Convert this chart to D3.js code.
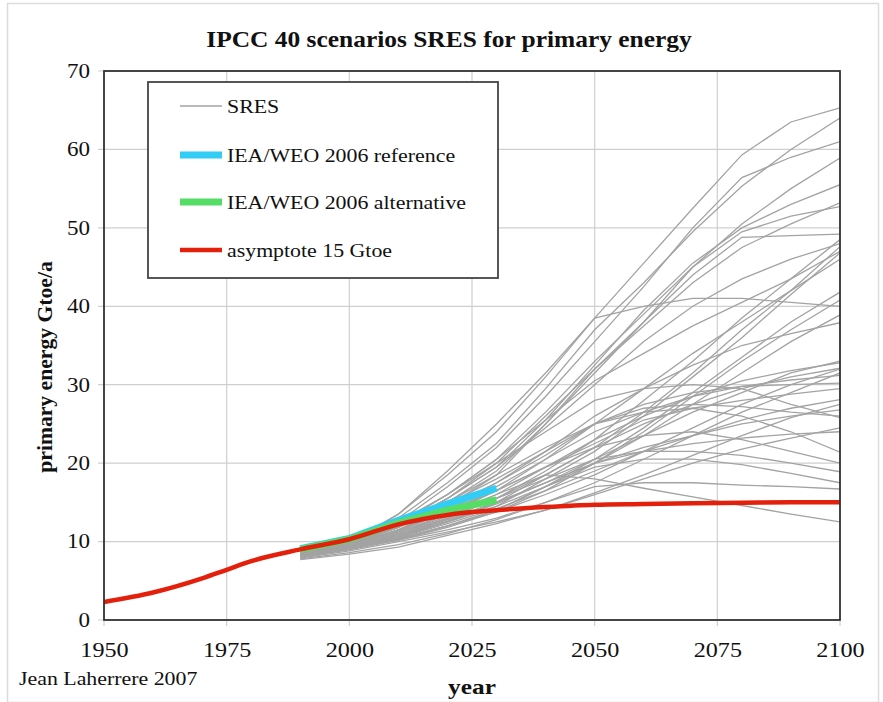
<!DOCTYPE html>
<html>
<head>
<meta charset="utf-8">
<script src="https://cdn.jsdelivr.net/npm/d3@7"></script>
<style>
  html, body { margin: 0; padding: 0; background: #fff; }
  svg { display: block; }
  text { font-family: "Liberation Serif", "Times New Roman", serif; fill: #111; }
</style>
</head>
<body>
<svg id="chart" width="883" height="702"></svg>
<script>
// ---------------- data ----------------
const title = "IPCC 40 scenarios SRES for primary energy";
const yLabel = "primary energy Gtoe/a";
const xLabel = "year";
const credit = "Jean Laherrere 2007";

const xTicks = [1950, 1975, 2000, 2025, 2050, 2075, 2100];
const yTicks = [0, 10, 20, 30, 40, 50, 60, 70];

const sresYears = [1990, 2000, 2010, 2020, 2030, 2040, 2050, 2060, 2070, 2080, 2090, 2100];
const sresScenarios = [
  [8.6, 9.9, 13.5, 18.5, 24.0, 31.0, 38.5, 45.5, 52.5, 59.3, 63.5, 65.3],
  [8.6, 9.8, 13.0, 17.5, 22.5, 29.5, 37.0, 43.0, 49.5, 55.3, 60.0, 64.0],
  [8.5, 9.8, 12.5, 17.0, 22.0, 28.5, 35.5, 42.5, 50.0, 56.4, 59.0, 61.0],
  [8.5, 9.7, 12.2, 16.0, 20.5, 26.5, 33.0, 39.0, 45.0, 50.5, 55.0, 58.9],
  [8.4, 9.7, 12.0, 15.5, 19.5, 25.5, 32.5, 39.5, 45.5, 50.0, 53.0, 55.5],
  [8.4, 9.6, 11.8, 15.5, 20.0, 26.0, 32.0, 37.5, 43.0, 47.5, 50.5, 53.2],
  [8.4, 9.6, 11.8, 15.0, 19.0, 25.0, 31.5, 38.0, 45.0, 49.5, 51.5, 52.7],
  [8.3, 9.6, 11.5, 14.5, 18.5, 25.0, 32.0, 38.0, 44.0, 48.8, 49.0, 49.2],
  [8.5, 9.8, 13.5, 19.0, 25.0, 31.5, 38.5, 40.0, 41.0, 41.0, 40.5, 40.0],
  [8.2, 9.2, 10.8, 13.0, 15.5, 19.0, 23.0, 28.0, 33.0, 38.5, 43.5, 48.5],
  [8.2, 9.2, 10.6, 12.5, 15.0, 18.5, 22.0, 26.5, 31.5, 37.0, 42.0, 47.6],
  [8.1, 9.1, 10.5, 12.5, 14.5, 18.0, 21.5, 26.0, 31.0, 36.0, 41.5, 46.8],
  [8.2, 9.3, 11.0, 13.5, 16.5, 20.5, 25.0, 29.5, 34.0, 38.0, 42.0, 46.0],
  [8.1, 9.1, 10.4, 12.0, 14.0, 17.0, 20.5, 24.5, 29.0, 33.5, 38.0, 41.8],
  [8.0, 9.0, 10.2, 11.8, 13.8, 16.5, 20.0, 24.0, 28.5, 33.0, 37.0, 40.8],
  [8.0, 9.0, 10.3, 12.0, 14.0, 17.0, 20.0, 23.5, 27.5, 31.5, 35.5, 38.9],
  [8.3, 9.4, 11.3, 14.0, 17.5, 21.5, 26.0, 29.5, 32.5, 35.0, 36.5, 37.9],
  [8.3, 9.4, 11.2, 13.5, 16.0, 19.5, 23.0, 26.0, 28.5, 30.5, 31.8, 32.8],
  [8.2, 9.3, 11.0, 13.2, 15.5, 18.5, 22.0, 25.0, 27.5, 29.5, 31.0, 32.1],
  [8.3, 9.5, 11.5, 14.0, 17.0, 20.5, 24.0, 26.5, 28.5, 29.8, 30.6, 31.2],
  [8.4, 9.6, 11.8, 14.5, 17.5, 21.0, 25.0, 27.5, 29.0, 29.8, 30.0, 30.2],
  [8.1, 9.1, 10.5, 12.3, 14.2, 16.5, 19.0, 21.5, 23.5, 25.5, 27.0, 28.1],
  [8.2, 9.2, 10.8, 12.8, 15.0, 17.5, 20.0, 22.0, 23.5, 25.0, 26.0, 26.8],
  [8.5, 9.8, 12.5, 16.0, 20.0, 24.0, 28.0, 29.5, 30.0, 29.5, 27.5, 25.8],
  [7.9, 8.8, 10.0, 11.2, 12.5, 14.0, 16.0, 18.0, 20.0, 21.8, 23.2, 24.5],
  [8.4, 9.7, 12.0, 15.0, 18.5, 22.0, 25.0, 26.5, 27.0, 26.0, 24.0, 21.4],
  [8.3, 9.5, 11.5, 14.0, 16.5, 19.5, 22.0, 23.5, 24.0, 23.0, 21.5, 20.0],
  [8.2, 9.3, 11.0, 13.0, 15.5, 18.0, 20.5, 21.5, 21.5, 21.0, 20.0, 18.9],
  [8.2, 9.2, 10.8, 12.5, 14.5, 17.0, 19.5, 20.5, 20.5, 19.8, 18.7, 17.5],
  [8.1, 9.0, 10.2, 11.5, 13.0, 15.0, 17.0, 17.5, 17.5, 17.2, 17.0, 16.7],
  [8.3, 9.2, 11.0, 13.5, 16.0, 18.5, 18.0, 16.8, 15.7, 14.6, 13.5, 12.5],
  [7.7, 8.4, 9.3, 10.8, 12.3, 14.0, 16.2, 18.5, 21.0, 23.5, 25.8, 27.5],
  [7.8, 8.6, 9.6, 11.0, 12.8, 15.0, 17.5, 20.5, 23.5, 26.5, 29.0, 31.5],
  [8.2, 9.2, 10.7, 12.6, 14.8, 17.5, 20.5, 23.5, 26.5, 29.0, 31.5, 33.0],
  [8.3, 9.5, 11.3, 13.8, 16.5, 19.5, 22.5, 25.5, 27.0, 28.0, 28.8, 29.5],
  [8.4, 9.7, 11.8, 14.8, 18.0, 21.5, 25.0, 27.0, 27.5, 27.2, 26.5, 26.0],
  [8.2, 9.3, 10.8, 12.8, 15.0, 17.5, 20.0, 21.5, 22.5, 23.2, 23.7, 24.0],
  [8.1, 9.0, 10.3, 12.0, 13.8, 16.0, 18.5, 21.5, 24.5, 27.5, 30.0, 32.0],
  [8.4, 9.7, 12.0, 15.5, 19.5, 24.5, 30.0, 35.5, 40.0, 43.5, 46.0, 48.0],
  [8.5, 9.8, 12.3, 16.0, 20.5, 25.5, 30.5, 34.0, 37.5, 40.5, 43.5, 47.0]
];

const weoYears = [1990, 2000, 2010, 2020, 2030];
const weoReference = [9.1, 10.4, 12.7, 14.8, 16.8];
const weoAlternative = [9.0, 10.3, 12.4, 14.0, 15.3];

const asymptoteYears = [1950, 1960, 1970, 1975, 1980, 1990, 2000, 2010, 2020, 2030, 2040, 2050, 2060, 2070, 2080, 2090, 2100];
const asymptoteValues = [2.3, 3.5, 5.3, 6.4, 7.5, 9.0, 10.3, 12.2, 13.4, 14.0, 14.4, 14.7, 14.8, 14.9, 14.95, 15.0, 15.0];

const legendLabels = ["SRES", "IEA/WEO 2006 reference", "IEA/WEO 2006 alternative", "asymptote 15 Gtoe"];

// ---------------- chart ----------------
const svg = d3.select("#chart");
const W = 883, H = 702;
const plot = { left: 104, right: 840, top: 71, bottom: 620 };

const colors = { sres: "#a3a3a3", ref: "#33ccf5", alt: "#55dd66", asym: "#e3200b" };

// stretch text horizontally (the reference type is slightly wide)
function stretch(sel, factor) {
  sel.each(function () {
    const w = this.getComputedTextLength();
    d3.select(this).attr("textLength", w * factor).attr("lengthAdjust", "spacingAndGlyphs");
  });
}

// outer frame
svg.append("rect").attr("x", 7.5).attr("y", 3.5).attr("width", W - 12).attr("height", H - 3)
  .attr("fill", "none").attr("stroke", "#dcdcdc").attr("stroke-width", 1.5);

const x = d3.scaleLinear().domain([1950, 2100]).range([plot.left, plot.right]);
const y = d3.scaleLinear().domain([0, 70]).range([plot.bottom, plot.top]);

// grid
const grid = svg.append("g");
grid.selectAll("line.v").data(xTicks).join("line")
  .attr("x1", d => x(d)).attr("x2", d => x(d))
  .attr("y1", plot.top).attr("y2", plot.bottom + 6)
  .attr("stroke", "#cfcfcf").attr("stroke-width", 1.2);
grid.selectAll("line.h").data(yTicks).join("line")
  .attr("y1", d => y(d)).attr("y2", d => y(d))
  .attr("x1", plot.left - 6).attr("x2", plot.right)
  .attr("stroke", "#cfcfcf").attr("stroke-width", 1.2);

// axes labels via d3 axes
const xAxis = d3.axisBottom(x).tickValues(xTicks).tickFormat(d3.format("d")).tickSize(0).tickPadding(22);
const gx = svg.append("g").attr("transform", `translate(0,${plot.bottom})`).call(xAxis);
gx.select(".domain").remove();
gx.selectAll("text").style("font-family", "'Liberation Serif', serif").style("font-size", "20.5px").attr("fill", "#222");
stretch(gx.selectAll("text"), 1.18);

const yAxis = d3.axisLeft(y).tickValues(yTicks).tickSize(0).tickPadding(14);
const gy = svg.append("g").attr("transform", `translate(${plot.left},0)`).call(yAxis);
gy.select(".domain").remove();
gy.selectAll("text").style("font-family", "'Liberation Serif', serif").style("font-size", "20px").attr("fill", "#222");
stretch(gy.selectAll("text"), 1.15);

// clip
svg.append("clipPath").attr("id", "clip").append("rect")
  .attr("x", plot.left).attr("y", plot.top).attr("width", plot.right - plot.left).attr("height", plot.bottom - plot.top);

const line = (years) => d3.line().x((d, i) => x(years[i])).y(d => y(d));

const series = svg.append("g").attr("clip-path", "url(#clip)");
series.selectAll("path.sres").data(sresScenarios).join("path")
  .attr("d", d => line(sresYears)(d))
  .attr("fill", "none").attr("stroke", colors.sres).attr("stroke-width", 1.3);

series.append("path").attr("d", line(weoYears)(weoReference))
  .attr("fill", "none").attr("stroke", colors.ref).attr("stroke-width", 7);
series.append("path").attr("d", line(weoYears)(weoAlternative))
  .attr("fill", "none").attr("stroke", colors.alt).attr("stroke-width", 7);
series.append("path").attr("d", d3.line().curve(d3.curveMonotoneX).x((d, i) => x(asymptoteYears[i])).y(d => y(d))(asymptoteValues))
  .attr("fill", "none").attr("stroke", colors.asym).attr("stroke-width", 4.5);

// plot frame
svg.append("rect").attr("x", plot.left).attr("y", plot.top)
  .attr("width", plot.right - plot.left).attr("height", plot.bottom - plot.top)
  .attr("fill", "none").attr("stroke", "#333").attr("stroke-width", 1.8);

// legend
const lg = svg.append("g");
lg.append("rect").attr("x", 148).attr("y", 82).attr("width", 350).attr("height", 196)
  .attr("fill", "#fff").attr("stroke", "#444").attr("stroke-width", 1.8);
const legendStyles = [
  { c: colors.sres, w: 1.3 }, { c: colors.ref, w: 7 }, { c: colors.alt, w: 7 }, { c: colors.asym, w: 4.5 }
];
const rowY = [106, 155, 202, 250];
legendLabels.forEach((lab, i) => {
  lg.append("line").attr("x1", 180).attr("x2", 222).attr("y1", rowY[i]).attr("y2", rowY[i])
    .attr("stroke", legendStyles[i].c).attr("stroke-width", legendStyles[i].w);
  const t = lg.append("text").attr("x", 227).attr("y", rowY[i] + 6.5).style("font-size", "19px").attr("fill", "#222").text(lab);
  stretch(t, 1.15);
});

// titles
const tt = svg.append("text").attr("x", 449).attr("y", 47).attr("text-anchor", "middle")
  .style("font-size", "22.5px").style("font-weight", "bold").text(title);
stretch(tt, 1.13);
const yl = svg.append("text").attr("transform", `translate(52,${367}) rotate(-90)`).attr("text-anchor", "middle")
  .style("font-size", "21px").style("font-weight", "bold").text(yLabel);
stretch(yl, 1.03);
const xl = svg.append("text").attr("x", 472).attr("y", 694).attr("text-anchor", "middle")
  .style("font-size", "22px").style("font-weight", "bold").text(xLabel);
stretch(xl, 1.15);
const cr = svg.append("text").attr("x", 19).attr("y", 685)
  .style("font-size", "19px").attr("fill", "#222").text(credit);
stretch(cr, 1.15);
</script>
</body>
</html>
